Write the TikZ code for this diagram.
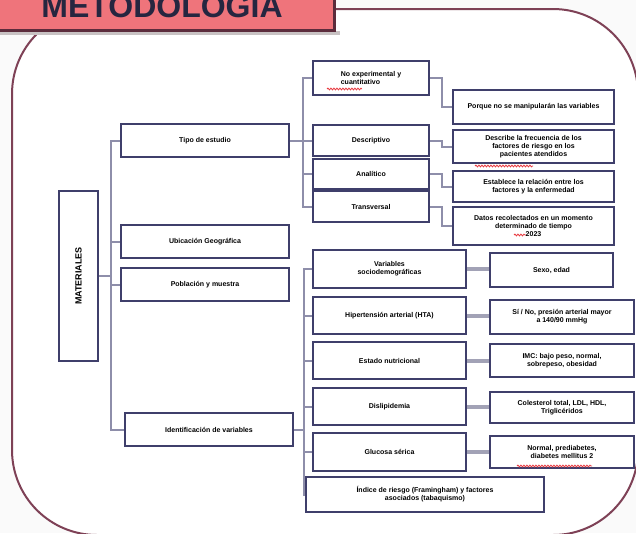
\documentclass[tikz,border=0pt]{standalone}
\usepackage{fontspec}
\setmainfont{Liberation Sans}
\usetikzlibrary{decorations.pathmorphing}
\definecolor{Page}{HTML}{FAFAFA}
\definecolor{TitlePink}{HTML}{EF747B}
\definecolor{TitleDark}{HTML}{5C2C3C}
\definecolor{ShadowGrey}{HTML}{C8C2C3}
\definecolor{FrameMaroon}{HTML}{7E4156}
\definecolor{BoxNavy}{HTML}{3F3F6B}
\definecolor{LinkGrey}{HTML}{8E8EAA}
\definecolor{BarGrey}{HTML}{A2A2B6}
\definecolor{SpellRed}{HTML}{E8393F}
\begin{document}
\begin{tikzpicture}[x=1pt,y=-1pt,
  box/.style={draw=BoxNavy,line width=2pt,fill=white,align=center,inner sep=1pt,font=\fontsize{7}{8.2}\selectfont\bfseries},
  link/.style={draw=LinkGrey,line width=2pt},
  bar/.style={draw=BarGrey,line width=4pt},
  spellmark/.style={draw=SpellRed,line width=.8pt,decorate,decoration={snake,segment length=3pt,amplitude=.9pt}}]
\useasboundingbox(0,0)rectangle(636,533);\fill[Page](0,0)rectangle(636,533);
\draw[FrameMaroon,line width=2pt,fill=white,rounded corners=85pt](12,9)rectangle(638,535);
% title
\fill[ShadowGrey](0,31)rectangle(340,35);\fill[TitleDark](-5,-10)rectangle(336,32);\fill[TitlePink](-5,-10)rectangle(333,29);
\node[anchor=base,font=\fontsize{32}{32}\selectfont\bfseries,text=BoxNavy!60!black](title)at(162,17){METODOLOGIA};
% main column
\node[box,minimum width=39pt,minimum height=170pt](L)at(78.5,276){\rotatebox{90}{\fontsize{9}{10}\selectfont\bfseries MATERIALES}};
\node[box,minimum width=168pt,minimum height=33pt](M1)at(205,140.5){Tipo de estudio};
\node[box,minimum width=168pt,minimum height=33pt](M2)at(205,241.5){Ubicación Geográfica};
\node[box,minimum width=168pt,minimum height=33pt](M3)at(205,284.5){Población y muestra};
\node[box,minimum width=168pt,minimum height=33pt](M4)at(209,429.5){Identificación de variables};
% type of study
\node[box,minimum width=116pt,minimum height=34pt,align=left](C1)at(371,78){No experimental y\\cuantitativo};
\node[box,minimum width=116pt,minimum height=31pt](C2)at(371,140.5){Descriptivo};
\node[box,minimum width=116pt,minimum height=30pt](C3)at(371,174){Analítico};
\node[box,minimum width=116pt,minimum height=31pt](C4)at(371,206.5){Transversal};
\node[box,minimum width=161pt,minimum height=34pt](R1)at(533.5,107){Porque no se manipularán las variables};
\node[box,minimum width=161pt,minimum height=33pt](R2)at(533.5,146.5){Describe la frecuencia de los\\factores de riesgo en los\\pacientes atendidos};
\node[box,minimum width=161pt,minimum height=31pt](R3)at(533.5,186.5){Establece la relación entre los\\factores y la enfermedad};
\node[box,minimum width=161pt,minimum height=38pt](R4)at(533.5,226){Datos recolectados en un momento\\determinado de tiempo\\2023};
% variables
\node[box,minimum width=153pt,minimum height=38pt](V1)at(389.5,269){Variables\\sociodemográficas};
\node[box,minimum width=153pt,minimum height=37pt](V2)at(389.5,315.5){Hipertensión arterial (HTA)};
\node[box,minimum width=153pt,minimum height=37pt](V3)at(389.5,360.5){Estado nutricional};
\node[box,minimum width=153pt,minimum height=37pt](V4)at(389.5,406.5){Dislipidemia};
\node[box,minimum width=153pt,minimum height=38pt](V5)at(389.5,452){Glucosa sérica};
\node[box,minimum width=238pt,minimum height=35pt](V6)at(425,494.5){Índice de riesgo (Framingham) y factores\\asociados (tabaquismo)};
\node[box,minimum width=123pt,minimum height=34pt](W1)at(551.5,270){Sexo, edad};
\node[box,minimum width=144pt,minimum height=34pt](W2)at(562,317){Sí / No, presión arterial mayor\\a 140/90 mmHg};
\node[box,minimum width=144pt,minimum height=33pt](W3)at(562,360.5){IMC: bajo peso, normal,\\sobrepeso, obesidad};
\node[box,minimum width=144pt,minimum height=31pt](W4)at(562,407.5){Colesterol total, LDL, HDL,\\Triglicéridos};
\node[box,minimum width=144pt,minimum height=32pt](W5)at(562,452){Normal, prediabetes,\\diabetes mellitus 2};
% connectors
\foreach \m in {M1,M2,M3,M4}\draw[link](L.east)--++(12,0)|-(\m.west);
\foreach \c in {C1,C2,C3,C4}\draw[link](M1.east)--++(13,0)|-(\c.west);
\foreach \i in {1,...,4}\draw[link](C\i.east)--++(12,0)|-(R\i.west);
\foreach \v in {V1,V2,V3,V4,V5,V6}\draw[link](M4.east)--++(10,0)|-(\v.west);
\foreach \i in {1,...,5}\draw[bar](V\i.east)--(V\i.east-|W\i.west);
% spell-check marks
\draw[spellmark](327,89)--(362,89);\draw[spellmark](475,166)--(533,166);\draw[spellmark](514,235)--(526,235);\draw[spellmark](517,466)--(592,466);
\end{tikzpicture}
\end{document}
